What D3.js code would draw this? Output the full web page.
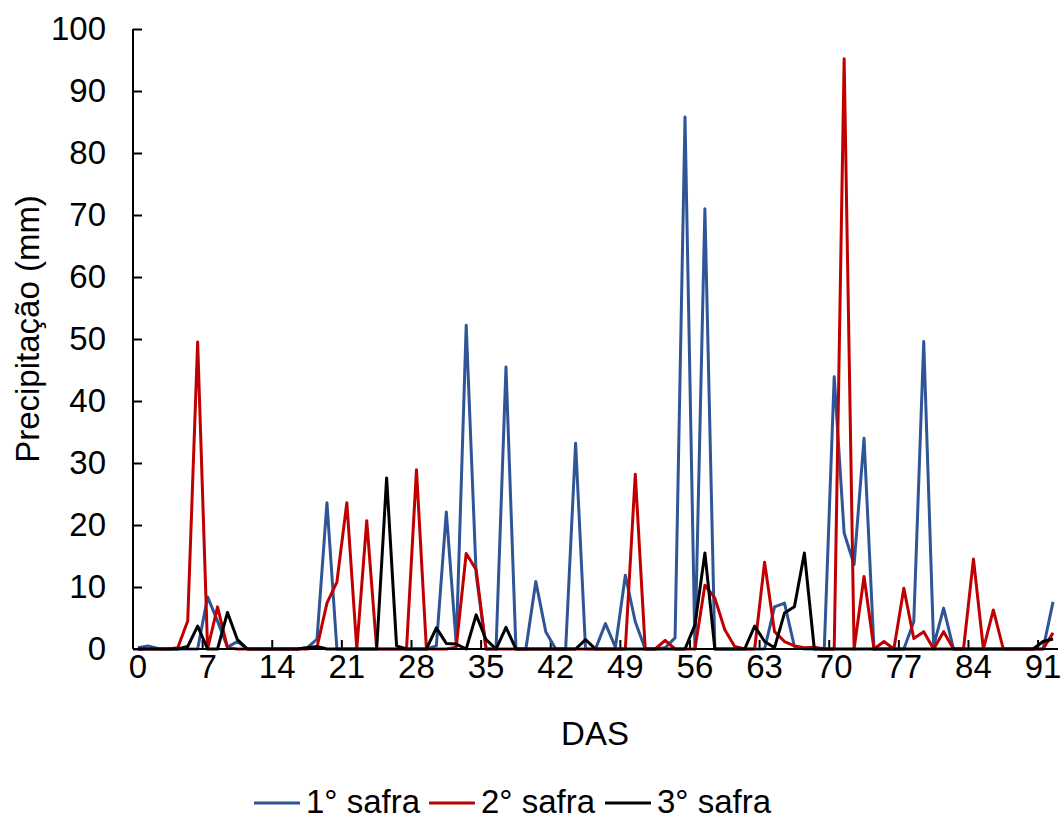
<!DOCTYPE html>
<html>
<head>
<meta charset="utf-8">
<script src="https://cdn.jsdelivr.net/npm/d3@7"></script>
<style>
  body { margin: 0; background: #fff; }
  svg text { font-family: "Liberation Sans", Arial, sans-serif; fill: #000; }
</style>
</head>
<body>
<svg id="chart" width="1062" height="821"></svg>
<script>
// days after sowing (DAS) 0..92
var days = d3.range(0, 93);
var xTicks = [0, 7, 14, 21, 28, 35, 42, 49, 56, 63, 70, 77, 84, 91];
var yTicks = [0, 10, 20, 30, 40, 50, 60, 70, 80, 90, 100];
var seriesNames = ["1° safra", "2° safra", "3° safra"];
var seriesColors = ["#2F5597", "#C00000", "#000000"];

// precipitation (mm)
var safra1 = [0.2, 0.5, 0.1, 0, 0, 0, 0, 8.4, 4.5, 0.3,
  1.2, 0, 0, 0, 0, 0, 0, 0.2, 1.6, 23.6,
  0, 0, 0, 0, 0, 0, 0, 0, 0, 0,
  0.5, 22.1, 0.8, 52.2, 12, 0, 0, 45.5, 0, 0,
  10.9, 2.8, 0, 0, 33.2, 0, 0, 4.1, 0.3, 11.9,
  4.4, 0, 0, 0.2, 1.8, 85.8, 0, 71.0, 0, 0,
  0, 0, 0, 0, 6.8, 7.4, 0.4, 0, 0, 0,
  43.9, 18.7, 13.6, 34.0, 0, 0, 0, 0, 4.4, 49.6,
  0.5, 6.6, 0, 0, 0, 0, 0, 0, 0, 0,
  0, 0, 7.6];
var safra2 = [0, 0, 0, 0, 0.2, 4.5, 49.5, 0, 6.8, 0.2,
  0, 0, 0, 0, 0, 0, 0, 0, 0.3, 7.4,
  10.8, 23.6, 0, 20.7, 0, 0, 0, 0, 28.9, 0,
  0, 0, 0.3, 15.4, 12.8, 0, 0, 0, 0, 0,
  0, 0, 0, 0, 0, 0, 0, 0, 0, 0,
  28.2, 0, 0, 1.4, 0, 0, 0, 10.3, 8.2, 3.1,
  0.4, 0, 0, 14.0, 2.8, 1.2, 0.5, 0.2, 0.3, 0,
  0, 95.2, 0, 11.7, 0, 1.2, 0, 9.8, 1.7, 2.8,
  0, 2.8, 0, 0, 14.5, 0, 6.3, 0, 0, 0,
  0, 0, 2.6];
var safra3 = [0, 0, 0, 0, 0, 0.4, 3.7, 0, 0, 5.9,
  1.5, 0, 0, 0, 0, 0, 0, 0.2, 0.4, 0,
  0, 0, 0, 0, 0, 27.6, 0.5, 0, 0, 0,
  3.4, 0.9, 0.8, 0, 5.5, 1.5, 0, 3.5, 0, 0,
  0, 0, 0, 0, 0, 1.5, 0, 0, 0, 0,
  0, 0, 0, 0, 0, 0, 3.9, 15.5, 0, 0,
  0, 0, 3.7, 1.2, 0.2, 5.8, 6.8, 15.5, 0, 0,
  0, 0, 0, 0, 0, 0, 0, 0, 0, 0,
  0, 0, 0, 0, 0, 0, 0, 0, 0, 0,
  0, 1.2, 1.6];

var allSeries = [safra1, safra2, safra3];

var svg = d3.select("#chart");
var margin = {left: 133, top: 29, right: 4, bottom: 821 - 649};
var width = 1062 - margin.left - margin.right,
    height = 821 - margin.top - margin.bottom;
var fontSize = 33;

// category axis: each day gets a band, points sit in the middle of it
var xScale = d3.scaleBand().domain(days).range([0, width]).padding(0);
var xMid = function (d) { return xScale(d) + xScale.bandwidth() / 2; };
var yScale = d3.scaleLinear().domain([0, 100]).range([height, 0]);

var g = svg.append("g")
  .attr("transform", "translate(" + margin.left + "," + margin.top + ")");

// y axis, ticks pointing inwards
var yAxis = d3.axisRight(yScale).tickValues(yTicks).tickSize(9).tickFormat(d3.format("d"));
var yG = g.append("g").call(yAxis);
yG.select(".domain").remove();
yG.selectAll(".tick line").attr("stroke", "#000").attr("stroke-width", 2);
yG.selectAll(".tick text")
  .attr("x", -27)
  .attr("text-anchor", "end")
  .style("font-size", fontSize + "px");

// x axis: tick marks on the band edges, labels in the band middle
var xAxis = d3.axisTop(xScale).tickValues(xTicks).tickSize(0).tickFormat(d3.format("d"));
var xG = g.append("g").attr("transform", "translate(0," + height + ")").call(xAxis);
xG.select(".domain").remove();
xG.selectAll(".tick text")
  .attr("y", 29)
  .attr("dy", 0)
  .style("font-size", fontSize + "px");
xG.selectAll(".tickmark")
  .data(xTicks)
  .enter().append("line")
  .attr("class", "tickmark")
  .attr("x1", function (d) { return xScale(d); })
  .attr("x2", function (d) { return xScale(d); })
  .attr("y1", 0).attr("y2", -9)
  .attr("stroke", "#000").attr("stroke-width", 2);

// lines, first series drawn first
var line = d3.line()
  .x(function (d, i) { return xMid(days[i]); })
  .y(function (d) { return yScale(d); });

allSeries.forEach(function (s, k) {
  g.append("path")
    .datum(s)
    .attr("d", line)
    .attr("fill", "none")
    .attr("stroke", seriesColors[k])
    .attr("stroke-width", 3)
    .attr("stroke-linejoin", "round");
});

// axis lines on top
g.append("line")
  .attr("x1", 0).attr("x2", 0)
  .attr("y1", 0).attr("y2", height)
  .attr("stroke", "#000").attr("stroke-width", 2);
g.append("line")
  .attr("x1", 0).attr("x2", width)
  .attr("y1", height).attr("y2", height)
  .attr("stroke", "#000").attr("stroke-width", 2);

// axis titles
svg.append("text")
  .attr("x", 595).attr("y", 745)
  .attr("text-anchor", "middle")
  .style("font-size", fontSize + "px")
  .text("DAS");
svg.append("text")
  .attr("transform", "translate(39,329) rotate(-90)")
  .attr("text-anchor", "middle")
  .style("font-size", fontSize + "px")
  .text("Precipitação (mm)");

// legend
var legendX = [254, 429, 605];
var legend = svg.append("g");
seriesNames.forEach(function (name, k) {
  legend.append("line")
    .attr("x1", legendX[k]).attr("x2", legendX[k] + 46)
    .attr("y1", 803).attr("y2", 803)
    .attr("stroke", seriesColors[k]).attr("stroke-width", 3);
  legend.append("text")
    .attr("x", legendX[k] + 52).attr("y", 813)
    .style("font-size", fontSize + "px")
    .text(name);
});
</script>
</body>
</html>
